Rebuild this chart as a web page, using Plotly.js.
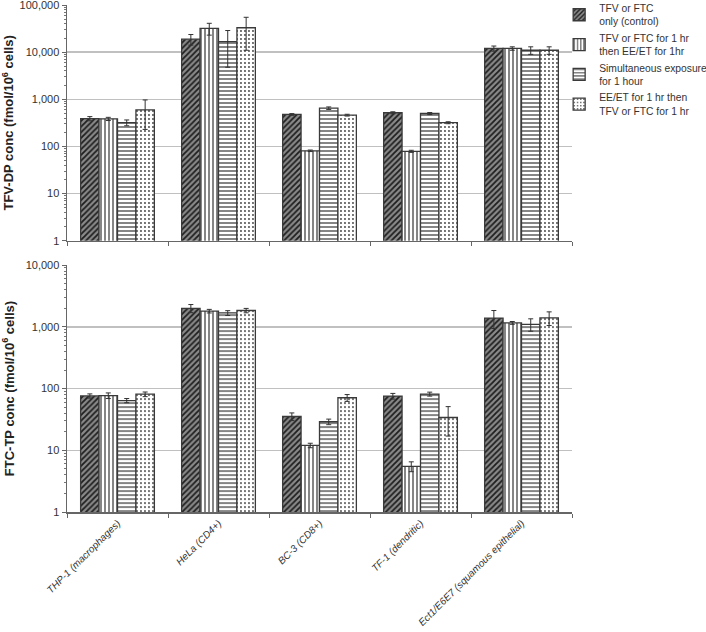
<!DOCTYPE html>
<html>
<head>
<meta charset="utf-8">
<script src="https://cdn.plot.ly/plotly-3.0.1.min.js"></script>
<style>html,body{margin:0;padding:0;background:#fff;}#chart{width:706px;height:632px;}</style>
</head>
<body>
<div id="chart"></div>
<script>
const cellLines = ["THP-1 (macrophages)", "HeLa (CD4+)", "BC-3 (CD8+)", "TF-1 (dendritic)", "Ect1/E6E7 (squamous epithelial)"];
const seriesNames = [
  "TFV or FTC<br>only (control)",
  "TFV or FTC for 1 hr<br>then EE/ET for 1hr",
  "Simultaneous exposure<br>for 1 hour",
  "EE/ET for 1 hr then<br>TFV or FTC for 1 hr"
];
// TFV-DP (top panel)
const tfvControl = [390, 18900, 478, 519, 12000];
const tfvControlErr = [40, 4800, 20, 25, 1500];
const tfvThenEE = [385, 32000, 81, 79, 12000];
const tfvThenEEErr = [30, 9000, 3, 4, 1000];
const tfvSimul = [320, 16800, 650, 500, 11000];
const tfvSimulErr = [45, 12000, 40, 25, 2000];
const tfvEEFirst = [600, 33000, 462, 319, 11000];
const tfvEEFirstErr = [370, 22000, 20, 15, 2000];
// FTC-TP (bottom panel)
const ftcControl = [76, 2000, 35.3, 75.5, 1390];
const ftcControlErr = [6, 300, 5, 8, 450];
const ftcThenEE = [77, 1800, 12, 5.5, 1160];
const ftcThenEEErr = [8, 120, 1, 1, 60];
const ftcSimul = [64, 1680, 29, 81.5, 1100];
const ftcSimulErr = [5, 150, 3, 6, 250];
const ftcEEFirst = [81, 1840, 71, 34, 1400];
const ftcEEFirstErr = [7, 150, 9, 17, 350];

const patterns = [
  {shape: "/", fgcolor: "#1e1e1e", bgcolor: "#8a8a8a", size: 4, solidity: 0.45},
  {shape: "|", fgcolor: "#333", bgcolor: "#ffffff", size: 4, solidity: 0.3},
  {shape: "-", fgcolor: "#333", bgcolor: "#ffffff", size: 4, solidity: 0.3},
  {shape: ".", fgcolor: "#444", bgcolor: "#ffffff", size: 4, solidity: 0.18}
];

const topData = [[tfvControl, tfvControlErr], [tfvThenEE, tfvThenEEErr], [tfvSimul, tfvSimulErr], [tfvEEFirst, tfvEEFirstErr]];
const botData = [[ftcControl, ftcControlErr], [ftcThenEE, ftcThenEEErr], [ftcSimul, ftcSimulErr], [ftcEEFirst, ftcEEFirstErr]];

const traces = [];
function mk(vals, errs, i, xa, ya, showLegend) {
  return {
    type: "bar", x: cellLines, y: vals, xaxis: xa, yaxis: ya,
    name: seriesNames[i], showlegend: showLegend, legendgroup: "g" + i,
    marker: {pattern: patterns[i], line: {color: "#3a3a3a", width: 1.3}},
    error_y: {type: "data", array: errs, visible: true, color: "#333", thickness: 1, width: 2.5}
  };
}
topData.forEach((d, i) => traces.push(mk(d[0], d[1], i, "x", "y", true)));
botData.forEach((d, i) => traces.push(mk(d[0], d[1], i, "x2", "y2", false)));

const FONT = "Liberation Sans, Arial, sans-serif";
const axisCommon = {
  showline: true, linecolor: "#666", linewidth: 1.5,
  ticks: "outside", tickcolor: "#666", ticklen: 4, ticklabeloverflow: "allow",
  tickfont: {family: FONT, size: 11, color: "#333"}
};
const yCommon = {
  type: "log", dtick: 1, tickformat: ",d", showgrid: true, gridcolor: "#c0c0c0", gridwidth: 1.5,
  minor: {ticks: "outside", ticklen: 2, tickcolor: "#777", dtick: "D1", showgrid: false}
};
const layout = {
  width: 706, height: 632,
  margin: {l: 67, r: 134, t: 5, b: 120, autoexpand: false},
  paper_bgcolor: "#fff", plot_bgcolor: "#fff",
  barmode: "group", bargap: 0.27, bargroupgap: 0,
  font: {family: FONT, size: 11, color: "#333"},
  xaxis: Object.assign({}, axisCommon, {domain: [0, 1], anchor: "y", tickson: "boundaries", showticklabels: false, showgrid: false}),
  xaxis2: Object.assign({}, axisCommon, {domain: [0, 1], anchor: "y2", tickson: "boundaries", showgrid: false,
    tickangle: -45, tickfont: {family: FONT, size: 10, color: "#333", style: "italic"}}),
  yaxis: Object.assign({}, axisCommon, yCommon, {domain: [0.535, 1], range: [0, 5.001],
    title: {text: "TFV-DP conc (fmol/10<sup>6</sup> cells)", font: {family: FONT, size: 13, color: "#222", weight: "bold"}, standoff: 8}}),
  yaxis2: Object.assign({}, axisCommon, yCommon, {domain: [0, 0.487], range: [0, 4.001],
    title: {text: "FTC-TP conc (fmol/10<sup>6</sup> cells)", font: {family: FONT, size: 13, color: "#222", weight: "bold"}, standoff: 8}}),
  legend: {xref: "container", yref: "paper", x: 0.792, y: 1.02, xanchor: "left", yanchor: "top", bgcolor: "rgba(0,0,0,0)",
    font: {family: FONT, size: 10.3, color: "#333"}, tracegroupgap: 0, itemwidth: 30}
};
Plotly.newPlot("chart", traces, layout, {displayModeBar: false, staticPlot: true});
</script>
</body>
</html>
